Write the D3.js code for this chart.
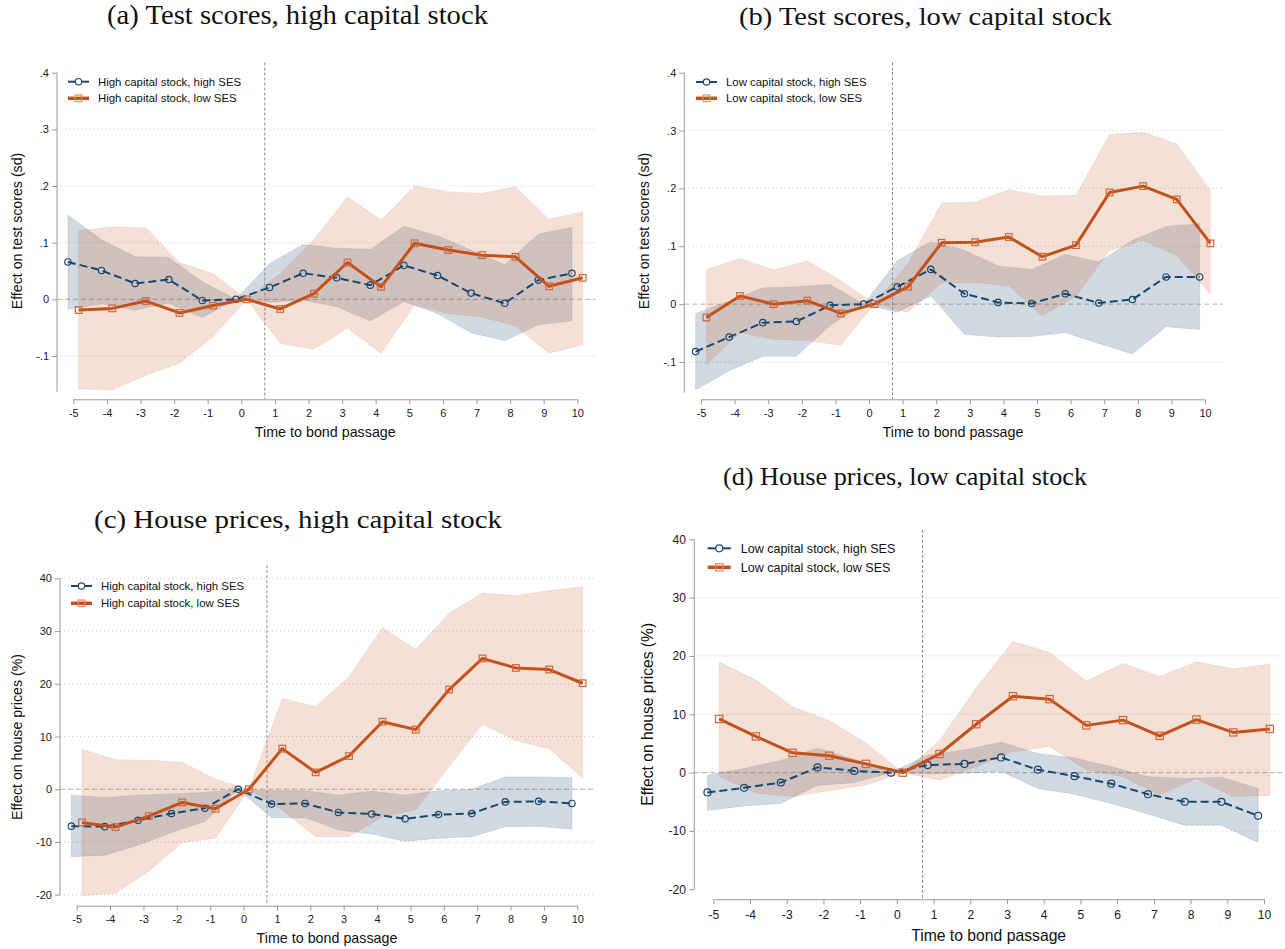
<!DOCTYPE html>
<html>
<head>
<meta charset="utf-8">
<script src="https://cdn.jsdelivr.net/npm/d3@7"></script>
<style>
  body { margin: 0; background: #fff; }
</style>
</head>
<body>
<div id="chart"></div>
<script>
// event time
const periods = [-5, -4, -3, -2, -1, 0, 1, 2, 3, 4, 5, 6, 7, 8, 9, 10];
const testTicks = [-0.1, 0, 0.1, 0.2, 0.3, 0.4];
const houseTicks = [-20, -10, 0, 10, 20, 30, 40];

// (a) test scores, high capital stock
const aHighSES   = [0.066, 0.051, 0.028, 0.035, -0.002, 0, 0.021, 0.046, 0.038, 0.025, 0.060, 0.042, 0.011, -0.007, 0.034, 0.046];
const aHighSESLo = [-0.018, -0.008, -0.019, -0.007, -0.032, 0, -0.005, -0.001, -0.013, -0.038, -0.004, -0.025, -0.059, -0.073, -0.045, -0.038];
const aHighSESHi = [0.149, 0.105, 0.075, 0.074, 0.031, 0, 0.063, 0.097, 0.090, 0.088, 0.129, 0.112, 0.087, 0.061, 0.115, 0.127];
const aLowSES    = [-0.019, -0.016, -0.003, -0.024, -0.011, 0, -0.017, 0.010, 0.065, 0.022, 0.099, 0.087, 0.078, 0.075, 0.023, 0.038];
const aLowSESLo  = [-0.158, -0.160, -0.134, -0.113, -0.066, 0, -0.078, -0.088, -0.051, -0.095, -0.010, -0.025, -0.031, -0.047, -0.095, -0.080];
const aLowSESHi  = [0.121, 0.128, 0.126, 0.065, 0.045, 0, 0.045, 0.105, 0.181, 0.140, 0.200, 0.190, 0.187, 0.199, 0.141, 0.155];

// (b) test scores, low capital stock
const bHighSES   = [-0.082, -0.057, -0.032, -0.030, -0.002, 0, 0.030, 0.060, 0.018, 0.003, 0.001, 0.018, 0.002, 0.008, 0.047, 0.047];
const bHighSESLo = [-0.148, -0.115, -0.090, -0.090, -0.037, 0, -0.014, 0.014, -0.052, -0.057, -0.056, -0.049, -0.068, -0.086, -0.039, -0.044];
const bHighSESHi = [-0.016, 0.005, 0.028, 0.030, 0.034, 0, 0.075, 0.108, 0.093, 0.066, 0.060, 0.086, 0.073, 0.110, 0.134, 0.139];
const bLowSES    = [-0.023, 0.014, 0, 0.006, -0.016, 0, 0.030, 0.106, 0.107, 0.116, 0.082, 0.102, 0.193, 0.204, 0.181, 0.105];
const bLowSESLo  = [-0.105, -0.049, -0.061, -0.063, -0.071, 0, -0.014, 0.037, 0.037, 0.032, -0.020, 0.013, 0.093, 0.110, 0.084, 0.017];
const bLowSESHi  = [0.060, 0.079, 0.059, 0.075, 0.041, 0, 0.070, 0.175, 0.176, 0.198, 0.187, 0.188, 0.293, 0.297, 0.277, 0.197];

// (c) house prices, high capital stock
const cHighSES   = [-7.0, -7.1, -5.9, -4.6, -3.6, 0, -2.8, -2.7, -4.4, -4.7, -5.6, -4.8, -4.6, -2.4, -2.3, -2.7];
const cHighSESLo = [-12.8, -12.5, -10.6, -8.2, -6.1, 0, -5.4, -5.4, -7.7, -8.5, -9.9, -9.3, -9.0, -7.1, -7.0, -7.6];
const cHighSESHi = [-1.1, -1.6, -1.1, -0.9, -0.6, 0, -0.3, -0.3, -1.1, -0.4, -1.1, -0.3, 0.0, 2.3, 2.3, 2.2];
const cLowSES    = [-6.3, -7.2, -5.1, -2.5, -3.7, 0, 7.7, 3.2, 6.3, 12.8, 11.3, 18.9, 24.8, 23.0, 22.7, 20.1];
const cLowSESLo  = [-20.2, -19.7, -15.6, -10.1, -9.3, 0, -4.0, -9.0, -9.0, -5.2, -3.9, 4.3, 12.3, 9.2, 7.7, 2.1];
const cLowSESHi  = [7.6, 5.6, 5.5, 5.1, 1.9, 0, 17.2, 15.7, 21.4, 30.6, 26.5, 33.4, 37.2, 36.7, 37.7, 38.4];

// (d) house prices, low capital stock
const dHighSES   = [-3.4, -2.6, -1.7, 0.9, 0.3, 0, 1.3, 1.5, 2.6, 0.5, -0.6, -1.9, -3.7, -5.0, -5.0, -7.4];
const dHighSESLo = [-6.5, -5.7, -5.3, -2.2, -1.7, 0, -0.2, -0.1, 0.2, -2.7, -3.7, -5.3, -7.1, -9.0, -9.0, -12.0];
const dHighSESHi = [-0.4, 0.7, 2.1, 4.2, 2.3, 0, 3.0, 3.9, 5.2, 3.3, 2.5, 1.0, -0.7, -1.0, -0.8, -2.7];
const dLowSES    = [9.2, 6.2, 3.4, 2.9, 1.5, 0, 3.2, 8.3, 13.1, 12.6, 8.1, 9.0, 6.3, 9.1, 6.9, 7.5];
const dLowSESLo  = [-0.7, -3.5, -4.1, -3.1, -2.1, 0, -1.3, 1.0, 3.6, 4.5, 0.5, -0.7, -3.8, -1.0, -4.1, -3.9];
const dLowSESHi  = [19.0, 15.9, 11.3, 8.9, 5.1, 0, 5.5, 14.5, 22.5, 20.6, 15.7, 18.7, 16.5, 19.0, 17.8, 18.6];

const blue = "#1a476f";
const orange = "#c4511b";
const sans = "'Liberation Sans', Arial, sans-serif";
const serif = "'Liberation Serif', 'DejaVu Serif', serif";
// stata style labels: plain hyphen, no leading zero
const fmtTest = d => d === 0 ? "0" : d.toFixed(1).replace("0.", ".");
const fmtInt = d => String(d);

const panels = [
    { title: "(a) Test scores, high capital stock", titleX: 297.5, titleY: 24, titleSize: 27, titleLen: 381,
      yLabel: "Effect on test scores (sd)", names: ["High capital stock, high SES", "High capital stock, low SES"],
      hi: [aHighSES, aHighSESLo, aHighSESHi], lo: [aLowSES, aLowSESLo, aLowSESHi],
      ticks: testTicks, grid: [-0.1, 0.1, 0.2, 0.3], fmt: fmtTest,
      xRange: [73.3, 577.3], yDom: [-0.1, 0.4], yRange: [356, 72.7], yAxisX: 57, xAxisY: 399.3,
      yBottom: -0.163, vTop: 0.418, legX: 68, legY: 81.7, legGap: 16.6, s: 1, yTitleOff: 40, xTitleOff: 38 },
    { title: "(b) Test scores, low capital stock", titleX: 925.5, titleY: 25, titleSize: 26, titleLen: 373,
      yLabel: "Effect on test scores (sd)", names: ["Low capital stock, high SES", "Low capital stock, low SES"],
      hi: [bHighSES, bHighSESLo, bHighSESHi], lo: [bLowSES, bLowSESLo, bLowSESHi],
      ticks: testTicks, grid: [-0.1, 0.1, 0.2, 0.3], fmt: fmtTest,
      xRange: [701, 1205], yDom: [-0.1, 0.4], yRange: [362, 72.7], yAxisX: 684.3, xAxisY: 399.3,
      yBottom: -0.153, vTop: 0.418, legX: 696, legY: 82, legGap: 16.3, s: 1, yTitleOff: 40, xTitleOff: 38 },
    { title: "(c) House prices, high capital stock", titleX: 298, titleY: 528, titleSize: 26, titleLen: 408,
      yLabel: "Effect on house prices (%)", names: ["High capital stock, high SES", "High capital stock, low SES"],
      hi: [cHighSES, cHighSESLo, cHighSESHi], lo: [cLowSES, cLowSESLo, cLowSESHi],
      ticks: houseTicks, grid: [-20, -10, 10, 20, 30, 40], fmt: fmtInt,
      xRange: [76.7, 577.3], yDom: [-20, 40], yRange: [894.7, 578.3], yAxisX: 60, xAxisY: 905.7,
      yBottom: -20, vTop: 42.5, legX: 71, legY: 586, legGap: 17.3, s: 1, yTitleOff: 43, xTitleOff: 37 },
    { title: "(d) House prices, low capital stock", titleX: 905, titleY: 485, titleSize: 25, titleLen: 364,
      yLabel: "Effect on house prices (%)", names: ["Low capital stock, high SES", "Low capital stock, low SES"],
      hi: [dHighSES, dHighSESLo, dHighSESHi], lo: [dLowSES, dLowSESLo, dLowSESHi],
      ticks: houseTicks, grid: [-10, 10, 20, 30], fmt: fmtInt,
      xRange: [713.3, 1264], yDom: [-20, 40], yRange: [889.3, 539.3], yAxisX: 694.3, xAxisY: 899.3,
      yBottom: -20, vTop: 41.6, legX: 707.7, legY: 548.3, legGap: 19, s: 1.1, yTitleOff: 47, xTitleOff: 42 }
];

const svg = d3.select("#chart")
    .append("svg")
    .attr("width", 1285)
    .attr("height", 949)
    .style("font-family", sans);

function drawPanel(p) {
    const g = svg.append("g");
    const x = d3.scaleLinear().domain([-5, 10]).range(p.xRange);
    const y = d3.scaleLinear().domain(p.yDom).range(p.yRange);
    const off = 0.16;
    const gridEnd = x(10) + 18;

    // title
    g.append("text")
        .attr("x", p.titleX)
        .attr("y", p.titleY)
        .attr("text-anchor", "middle")
        .style("font-family", serif)
        .style("font-size", p.titleSize + "px")
        .attr("textLength", p.titleLen)
        .attr("lengthAdjust", "spacingAndGlyphs")
        .attr("fill", "#111")
        .text(p.title);

    // grid
    g.selectAll(".grid")
        .data(p.grid)
        .enter()
        .append("line")
        .attr("x1", p.yAxisX)
        .attr("x2", gridEnd)
        .attr("y1", d => y(d))
        .attr("y2", d => y(d))
        .attr("stroke", "#c9c9c9")
        .attr("stroke-width", 1)
        .attr("stroke-dasharray", "1,3");

    g.append("line")
        .attr("x1", p.yAxisX)
        .attr("x2", gridEnd)
        .attr("y1", y(0))
        .attr("y2", y(0))
        .attr("stroke", "#b0b0b0")
        .attr("stroke-dasharray", "5,3");

    // confidence bands
    const bandData = s => periods.map((t, i) => ({ t, lo: s[1][i], hi: s[2][i] }));
    const area = shift => d3.area()
        .x(d => x(d.t + shift))
        .y0(d => y(d.lo))
        .y1(d => y(d.hi));

    g.append("path")
        .datum(bandData(p.hi))
        .attr("d", area(-off))
        .attr("fill", blue)
        .attr("fill-opacity", 0.2)
        .attr("stroke", blue)
        .attr("stroke-opacity", 0.12);

    g.append("path")
        .datum(bandData(p.lo))
        .attr("d", area(off))
        .attr("fill", "#c8531a")
        .attr("fill-opacity", 0.18)
        .attr("stroke", "#c8531a")
        .attr("stroke-opacity", 0.1);

    // bond passage marker
    g.append("line")
        .attr("x1", x(0.7))
        .attr("x2", x(0.7))
        .attr("y1", y(p.vTop))
        .attr("y2", p.xAxisY)
        .attr("stroke", "#8a8a8a")
        .attr("stroke-width", 1)
        .attr("stroke-dasharray", "3,2");

    // point estimates
    const pts = (s, shift) => periods.map((t, i) => ({ x: x(t + shift), y: y(s[0][i]) }));
    const line = d3.line().x(d => d.x).y(d => d.y);
    const r = 3.2 * p.s;
    const sq = 6.6 * p.s;

    const hiPts = pts(p.hi, -off);
    g.append("path")
        .datum(hiPts)
        .attr("d", line)
        .attr("fill", "none")
        .attr("stroke", blue)
        .attr("stroke-width", 2)
        .attr("stroke-dasharray", "8,4");
    g.selectAll(".hiMark")
        .data(hiPts)
        .enter()
        .append("circle")
        .attr("cx", d => d.x)
        .attr("cy", d => d.y)
        .attr("r", r)
        .attr("fill", "none")
        .attr("stroke", blue)
        .attr("stroke-width", 1.2);

    const loPts = pts(p.lo, off);
    g.append("path")
        .datum(loPts)
        .attr("d", line)
        .attr("fill", "none")
        .attr("stroke", orange)
        .attr("stroke-width", 3)
        .attr("stroke-linejoin", "round");
    g.selectAll(".loMark")
        .data(loPts)
        .enter()
        .append("rect")
        .attr("x", d => d.x - sq / 2)
        .attr("y", d => d.y - sq / 2)
        .attr("width", sq)
        .attr("height", sq)
        .attr("fill", "none")
        .attr("stroke", "#d0653a")
        .attr("stroke-width", 1.2);

    // axes
    const tickFont = (11 * p.s) + "px";
    const yAx = g.append("g")
        .attr("transform", `translate(${p.yAxisX},0)`)
        .call(d3.axisLeft(y).tickValues(p.ticks).tickFormat(p.fmt).tickSize(5).tickPadding(3 * p.s));
    yAx.select(".domain").remove();
    yAx.append("line")
        .attr("y1", y(d3.max(p.ticks)))
        .attr("y2", y(p.yBottom))
        .attr("stroke", "#9a9a9a");

    const xAx = g.append("g")
        .attr("transform", `translate(0,${p.xAxisY})`)
        .call(d3.axisBottom(x).tickValues(periods).tickFormat(fmtInt).tickSize(5).tickSizeOuter(0).tickPadding(p.s > 1 ? 6.5 : 4.5));

    [yAx, xAx].forEach(ax => {
        ax.attr("font-family", null);
        ax.selectAll(".tick line").attr("stroke", "#9a9a9a");
        ax.select(".domain").attr("stroke", "#9a9a9a");
        ax.selectAll(".tick text")
            .attr("fill", "#1a1a1a")
            .style("font-size", tickFont)
            .style("font-family", sans);
    });

    // axis titles
    g.append("text")
        .attr("x", (x(-5) + x(10)) / 2)
        .attr("y", p.xAxisY + p.xTitleOff)
        .attr("text-anchor", "middle")
        .style("font-size", (14.3 * p.s) + "px")
        .attr("fill", "#111")
        .text("Time to bond passage");

    const cy = (y(d3.max(p.ticks)) + p.xAxisY) / 2 - 5;
    g.append("text")
        .attr("transform", `translate(${p.yAxisX - p.yTitleOff},${cy}) rotate(-90)`)
        .attr("text-anchor", "middle")
        .attr("dy", "0.35em")
        .style("font-size", (14.2 * p.s) + "px")
        .attr("fill", "#111")
        .text(p.yLabel);

    // legend
    const legLen = 21 * p.s;
    const lf = (11.4 * p.s) + "px";
    const lg = g.append("g");
    lg.append("line")
        .attr("x1", p.legX).attr("x2", p.legX + legLen)
        .attr("y1", p.legY).attr("y2", p.legY)
        .attr("stroke", blue).attr("stroke-width", 2);
    lg.append("circle")
        .attr("cx", p.legX + legLen / 2).attr("cy", p.legY).attr("r", r)
        .attr("fill", "#fff").attr("stroke", blue).attr("stroke-width", 1.2);
    lg.append("line")
        .attr("x1", p.legX).attr("x2", p.legX + legLen)
        .attr("y1", p.legY + p.legGap).attr("y2", p.legY + p.legGap)
        .attr("stroke", orange).attr("stroke-width", 3.5);
    lg.append("rect")
        .attr("x", p.legX + legLen / 2 - sq / 2).attr("y", p.legY + p.legGap - sq / 2)
        .attr("width", sq).attr("height", sq)
        .attr("fill", "none").attr("stroke", "#e08a60").attr("stroke-width", 1.2);
    lg.selectAll(".legText")
        .data(p.names)
        .enter()
        .append("text")
        .attr("x", p.legX + legLen + 9 * p.s)
        .attr("y", (d, i) => p.legY + i * p.legGap)
        .attr("dy", "0.35em")
        .style("font-size", lf)
        .attr("fill", "#111")
        .text(d => d);
}

panels.forEach(drawPanel);
</script>
</body>
</html>
